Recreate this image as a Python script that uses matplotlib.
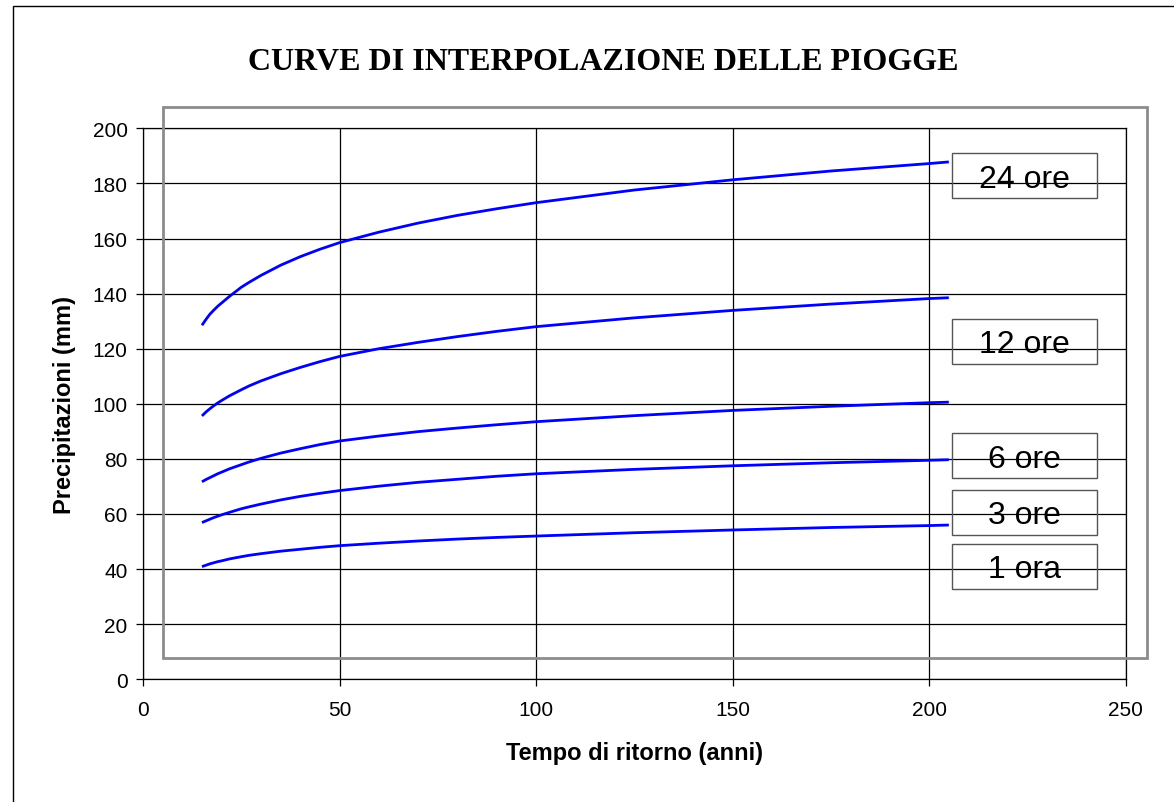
import matplotlib
matplotlib.use('Agg')
import matplotlib.pyplot as plt
from matplotlib.patches import Rectangle

# return period (years) and rainfall depth (mm)
tempo = [15, 16, 17, 18, 19, 20, 22, 25, 27, 30, 35, 40, 45, 50, 60, 70, 80, 90,
         100, 125, 150, 175, 200, 205]

h_24 = [128.5, 130.6, 132.5, 134.0, 135.4, 136.6, 139.0, 142.3, 144.1, 146.6,
        150.3, 153.4, 156.1, 158.5, 162.3, 165.6, 168.4, 170.8,
        173.0, 177.6, 181.3, 184.5, 187.2, 187.8]
h_12 = [95.6, 97.0, 98.2, 99.3, 100.3, 101.2, 102.9, 105.1, 106.5, 108.3,
        110.9, 113.2, 115.3, 117.2, 120.0, 122.3, 124.4, 126.3,
        128.0, 131.2, 133.9, 136.2, 138.2, 138.5]
h_6 = [71.7, 72.5, 73.2, 73.9, 74.6, 75.2, 76.4, 77.9, 78.9, 80.2,
       82.1, 83.7, 85.2, 86.5, 88.3, 89.9, 91.2, 92.4,
       93.5, 95.7, 97.6, 99.1, 100.4, 100.6]
h_3 = [56.9, 57.5, 58.1, 58.7, 59.2, 59.7, 60.6, 61.9, 62.6, 63.6,
       65.1, 66.4, 67.5, 68.5, 70.1, 71.5, 72.6, 73.7,
       74.6, 76.2, 77.5, 78.6, 79.5, 79.7]
h_1 = [40.9, 41.4, 41.9, 42.3, 42.7, 43.0, 43.7, 44.5, 45.0, 45.6,
       46.5, 47.2, 47.9, 48.5, 49.4, 50.2, 50.9, 51.5,
       52.0, 53.2, 54.2, 55.1, 55.8, 56.0]

series = [h_24, h_12, h_6, h_3, h_1]
labels = ['24 ore', '12 ore', '6 ore', '3 ore', '1 ora']
# label box tops in pixels (figure is 1174x803)
box_tops = [154, 320, 434, 491, 545]

W, H = 1174, 803
fig = plt.figure(figsize=(W / 100, H / 100), dpi=100)
fig.patch.set_facecolor('white')

ax = fig.add_axes([143 / W, 1 - 680.3 / H, (1125.7 - 143) / W, (680.3 - 129.3) / H])
ax.set_facecolor('none')

for vals in series:
    ax.plot(tempo, vals, color='#0000ff', linewidth=2.0, solid_capstyle='butt',
            solid_joinstyle='round', zorder=3)

ax.set_xlim(0, 250)
ax.set_ylim(0, 200)
ax.set_xticks(range(0, 251, 50))
ax.set_yticks(range(0, 201, 20))
ax.grid(True, color='black', linewidth=0.9)
ax.set_axisbelow(True)
for sp in ax.spines.values():
    sp.set_color('black')
    sp.set_linewidth(0.9)

ax.tick_params(axis='both', direction='out', length=5, width=0.9, color='black')
ax.tick_params(axis='x', pad=10)
ax.tick_params(axis='y', pad=6)
for lab in ax.get_xticklabels() + ax.get_yticklabels():
    lab.set_fontfamily('Liberation Sans')
    lab.set_fontsize(15)

ax.set_xlabel('Tempo di ritorno (anni)', fontsize=17, fontweight='bold',
              fontfamily='Liberation Sans', labelpad=16)
ax.set_ylabel('Precipitazioni (mm)', fontsize=17, fontweight='bold',
              fontfamily='Liberation Sans', labelpad=12)

# title
fig.text(603 / W, 1 - 63 / H, 'CURVE DI INTERPOLAZIONE DELLE PIOGGE',
         fontsize=23, fontweight='bold', fontfamily='Liberation Serif',
         ha='center', va='center')

# gray plot-area frame (offset from the grid as in the original)
fig.add_artist(Rectangle((162.5 / W, 1 - 659 / H), (1146.7 - 162.5) / W, (659 - 108) / H,
                         transform=fig.transFigure, fill=False,
                         edgecolor='#8c8c8c', linewidth=2.0, zorder=5))

# outer chart border (runs off the right and bottom edges)
fig.add_artist(Rectangle((13 / W, -0.05), 1.1, 1 - 7 / H + 0.05,
                         transform=fig.transFigure, fill=False,
                         edgecolor='black', linewidth=1.0, zorder=5))

# series labels in transparent boxes
for lab, top in zip(labels, box_tops):
    x0, x1 = 951.7, 1097
    fig.add_artist(Rectangle((x0 / W, 1 - (top + 45) / H), (x1 - x0) / W, 45 / H,
                             transform=fig.transFigure, fill=False,
                             edgecolor='#555555', linewidth=1.0, zorder=6))
    fig.text((x0 + x1) / 2 / W, 1 - (top + 22) / H, lab, fontsize=23,
             fontfamily='Liberation Sans', ha='center', va='center_baseline', zorder=7)

fig.savefig('out.png', dpi=100)
